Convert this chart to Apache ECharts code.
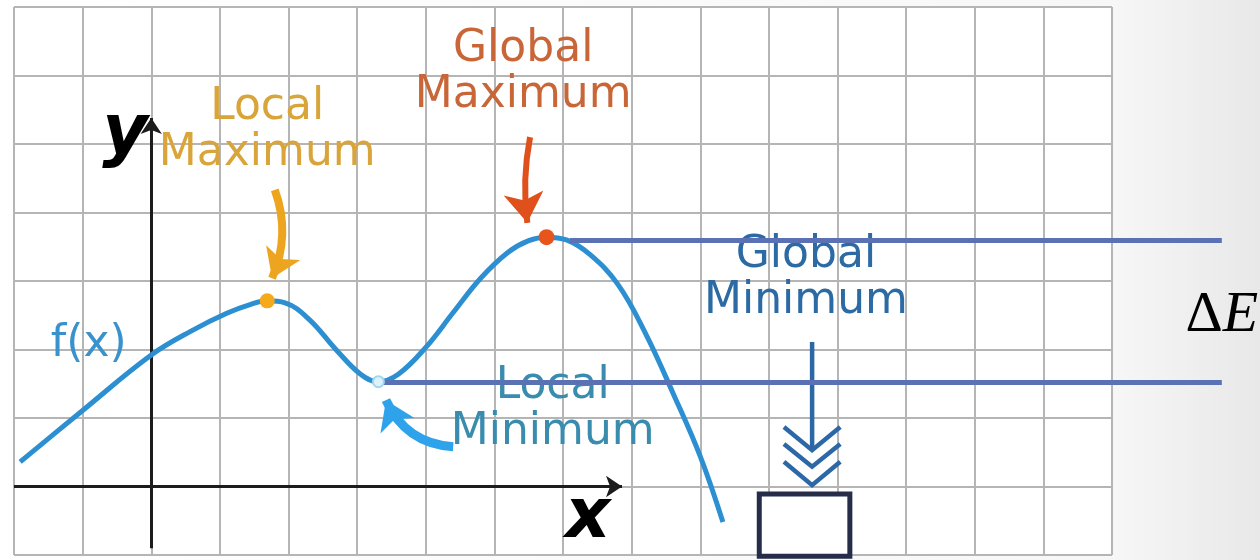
<!DOCTYPE html>
<html>
<head>
<meta charset="utf-8">
<script src="https://cdn.jsdelivr.net/npm/echarts@6/dist/echarts.min.js"></script>
<style>
html,body{margin:0;padding:0;background:#fff;}
#chart{width:1260px;height:560px;}
</style>
</head>
<body>
<div id="chart"></div>
<script>
// ---- data (grid units: 1 = one grid cell, origin at the drawn axes) ----
const curveX = [-1.91,-1.00,0.00,0.60,1.10,1.45,1.69,1.95,2.30,2.70,3.05,3.31,3.60,4.00,4.40,4.80,5.20,5.50,5.76,6.05,6.40,6.80,7.20,7.60,8.00,8.33];
const curveY = [0.36,1.11,1.92,2.28,2.53,2.66,2.71,2.68,2.44,1.99,1.64,1.53,1.64,2.03,2.54,3.04,3.42,3.59,3.64,3.60,3.38,2.95,2.24,1.37,0.44,-0.52];

const localMaxPt = [1.69, 2.71];
const globalMaxPt = [5.76, 3.64];
const localMinPt = [3.31, 1.53];

const axisX = [[-2, 0], [6.86, 0]];
const axisY = [[0, -0.9], [0, 5.38]];

const levelHigh = [[6.10, 3.59], [15.60, 3.59]];
const levelLow = [[3.33, 1.52], [15.60, 1.52]];

const arrowLocalMax = [[1.80, 4.33], [1.76, 3.04]];
const arrowGlobalMax = [[5.52, 5.10], [5.48, 3.85]];
const arrowLocalMin = [[4.40, 0.58], [3.42, 1.26]];

const globalMinStem = [[9.63, 2.11], [9.63, 0.53]];
const chevrons = [
  [[9.22, 0.87], [9.63, 0.53], [10.04, 0.87]],
  [[9.22, 0.62], [9.63, 0.29], [10.04, 0.62]],
  [[9.22, 0.36], [9.63, 0.02], [10.04, 0.36]]
];
const boxCorners = [[8.86, -0.11], [10.18, -1.02]];

const textLabels = [
  {name: 'Local\nMaximum', pos: [1.69, 5.20], color: '#d9a53a'},
  {name: 'Global\nMaximum', pos: [5.42, 6.05], color: '#c96638'},
  {name: 'Global\nMinimum', pos: [9.54, 3.04], color: '#2c6aa4'},
  {name: 'Local\nMinimum', pos: [5.85, 1.12], color: '#3a8cae'},
  {name: 'f(x)', pos: [-0.91, 2.07], color: '#3a92cc'}
];
const axisNames = [
  {name: 'y', pos: [-0.38, 5.13]},
  {name: 'x', pos: [6.36, -0.47]}
];
const deltaLabel = {name: 'ΔE', pos: [15.60, 2.49]};

// ---- chart ----
const chart = echarts.init(document.getElementById('chart'));
const lineAxis = (min, max) => ({
  type: 'value', min: min, max: max, interval: 1,
  axisLine: {show: false}, axisTick: {show: false}, axisLabel: {show: false},
  splitLine: {show: true, showMinLine: true, showMaxLine: true, lineStyle: {color: '#b5b5b5', width: 2}}
});

function arrowSeries(coords, color, width, curveness, size) {
  return {
    type: 'lines', coordinateSystem: 'cartesian2d', clip: false, z: 6,
    symbol: ['none', 'arrow'], symbolSize: size,
    lineStyle: {color: color, width: width, curveness: curveness, opacity: 1},
    data: [{coords: coords}]
  };
}

const option = {
  animation: false,
  backgroundColor: {
    type: 'linear', x: 0, y: 0, x2: 1, y2: 0,
    colorStops: [{offset: 0, color: '#ffffff'}, {offset: 0.88, color: '#f7f7f7'}, {offset: 1, color: '#e8e8e8'}]
  },
  grid: {left: 14, top: 7, width: 1098, height: 548, show: true, backgroundColor: '#ffffff', borderWidth: 0},
  xAxis: lineAxis(-2, 14),
  yAxis: lineAxis(-1, 7),
  series: [
    // drawn axes
    {
      type: 'lines', coordinateSystem: 'cartesian2d', clip: false, z: 3,
      symbol: ['none', 'arrow'], symbolSize: 16,
      lineStyle: {color: '#1c1c1c', width: 3, opacity: 1},
      data: [{coords: axisX}, {coords: axisY}]
    },
    // box
    {
      type: 'custom', coordinateSystem: 'cartesian2d', clip: false, z: 5,
      data: [[boxCorners[0][0], boxCorners[0][1], boxCorners[1][0], boxCorners[1][1]]],
      renderItem: function (params, api) {
        const p1 = api.coord([api.value(0), api.value(1)]);
        const p2 = api.coord([api.value(2), api.value(3)]);
        return {
          type: 'rect',
          shape: {x: p1[0], y: p1[1], width: p2[0] - p1[0], height: p2[1] - p1[1]},
          style: {fill: '#ffffff', stroke: '#252d48', lineWidth: 5}
        };
      }
    },
    // f(x)
    {
      type: 'line', clip: false, z: 4, smooth: 0.4, showSymbol: false,
      lineStyle: {color: '#2b8fd2', width: 5},
      data: curveX.map((x, i) => [x, curveY[i]])
    },
    // labels
    {
      type: 'scatter', clip: false, z: 5, symbolSize: 0, itemStyle: {opacity: 1},
      label: {show: true, position: 'inside', fontFamily: 'DejaVu Sans', fontSize: 44, lineHeight: 46,
              formatter: p => p.name, align: 'center', verticalAlign: 'middle'},
      data: textLabels.map(t => ({name: t.name, value: t.pos, label: {color: t.color}}))
    },
    {
      type: 'scatter', clip: false, z: 5, symbolSize: 0, itemStyle: {opacity: 1},
      label: {show: true, position: 'inside', fontFamily: 'DejaVu Sans', fontSize: 70, fontWeight: 'bold',
              fontStyle: 'italic', color: '#000000', formatter: p => p.name},
      data: axisNames.map(t => ({name: t.name, value: t.pos}))
    },
    {
      type: 'scatter', clip: false, z: 5, symbolSize: 0, itemStyle: {opacity: 1},
      label: {show: true, position: 'inside', formatter: '{d|Δ}{e|E}',
              rich: {
                d: {fontFamily: 'Liberation Serif', fontSize: 58, color: '#000000'},
                e: {fontFamily: 'Liberation Serif', fontSize: 58, fontStyle: 'italic', color: '#000000'}
              }},
      data: [{name: deltaLabel.name, value: deltaLabel.pos}]
    },
    // pointer arrows
    arrowSeries(arrowLocalMax, '#eda41e', 8, 0.2, [28, 28]),
    arrowSeries(arrowGlobalMax, '#e0501c', 6, -0.08, [28, 30]),
    arrowSeries(arrowLocalMin, '#2ea2ea', 9, 0.3, [30, 28]),
    // global minimum arrow
    {
      type: 'lines', coordinateSystem: 'cartesian2d', clip: false, z: 6, polyline: true,
      lineStyle: {color: '#2c68a6', width: 4.5, opacity: 1},
      data: [{coords: globalMinStem}].concat(chevrons.map(c => ({coords: c})))
    },
    // level lines
    {
      type: 'lines', coordinateSystem: 'cartesian2d', clip: false, z: 8,
      lineStyle: {color: '#5a72b4', width: 5, opacity: 1},
      data: [{coords: levelHigh}, {coords: levelLow}]
    },
    // extrema points
    {
      type: 'scatter', clip: false, z: 9, itemStyle: {opacity: 1},
      data: [
        {value: localMaxPt, symbolSize: 15, itemStyle: {color: '#f5aa1c', opacity: 1}},
        {value: globalMaxPt, symbolSize: 16, itemStyle: {color: '#e8541c', opacity: 1}},
        {value: localMinPt, symbolSize: 11, itemStyle: {color: '#dff2fb', borderColor: '#9fd6f0', borderWidth: 2, opacity: 1}}
      ]
    }
  ]
};
chart.setOption(option);
</script>
</body>
</html>
